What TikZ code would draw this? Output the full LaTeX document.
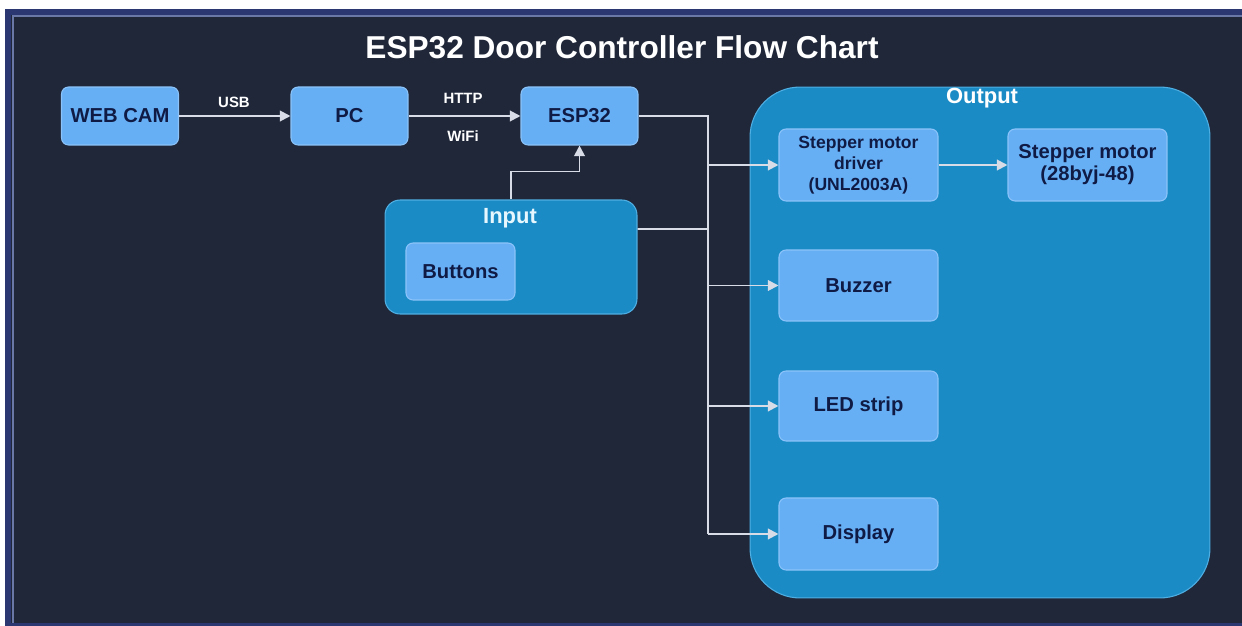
\documentclass[tikz,border=0pt]{standalone}
\usepackage{fontspec}
\setmainfont{Liberation Sans}
\usepackage{tikz}
\usetikzlibrary{positioning,arrows.meta}

\definecolor{pagedark}{HTML}{1F2739}
\definecolor{framenavy}{HTML}{2B3770}
\definecolor{frameline}{HTML}{6A78A8}
\definecolor{boxfill}{HTML}{66AFF5}
\definecolor{boxline}{HTML}{8CC4FA}
\definecolor{boxtext}{HTML}{101B45}
\definecolor{grpfill}{HTML}{1B8BC6}
\definecolor{grpline}{HTML}{4FAFE3}
\definecolor{wirecol}{HTML}{D8DCE6}

\begin{document}
\begin{tikzpicture}[x=0.02cm, y=-0.02cm,
  box/.style={draw=boxline, fill=boxfill, line width=0.6pt, rounded corners=4pt,
    text=boxtext, align=center, inner sep=1pt,
    font=\bfseries\fontsize{11.5}{13}\selectfont},
  grp/.style={draw=grpline, fill=grpfill, line width=0.6pt, inner sep=0pt},
  grptitle/.style={text=white, font=\bfseries\fontsize{12.5}{14}\selectfont},
  lbl/.style={text=white, font=\bfseries\fontsize{8.5}{10}\selectfont},
  line/.style={draw=wirecol, line width=1.1pt},
  wire/.style={line, -{Triangle[length=6pt,width=6pt]}}]
\useasboundingbox (0,0) rectangle (1242,626);
% page and frame
\fill[white] (0,0) rectangle (1242,626);
\fill[framenavy] (5,9) rectangle (1242,626);
\fill[pagedark] (11,15) rectangle (1242,623);
\draw[frameline, line width=0.8pt] (13,623) -- (13,16) -- (1242,16);

\node[text=white, font=\bfseries\fontsize{18}{20}\selectfont] (title) at (622,47) {ESP32 Door Controller Flow Chart};

% groups
\node[grp, rounded corners=1cm, minimum width=9.2cm, minimum height=10.22cm] (output) at (980,342.5) {};
\node[grptitle] at (982,98) {Output};
\node[grp, rounded corners=0.3cm, minimum width=5.04cm, minimum height=2.28cm] (input) at (511,257) {};
\node[grptitle, text=white!90!cyan] at (510,218) {Input};

% top row
\node[box, minimum width=2.34cm, minimum height=1.16cm] (webcam) at (120,116) {WEB CAM};
\node[box, minimum width=2.34cm, minimum height=1.16cm] (pc) at (349.5,116) {PC};
\node[box, minimum width=2.34cm, minimum height=1.16cm] (esp) at (579.5,116) {ESP32};
\node[box, minimum width=2.18cm, minimum height=1.14cm] (buttons) at (460.5,271.5) {Buttons};

% outputs
\node[box, minimum width=3.18cm, minimum height=1.44cm, font=\bfseries\fontsize{10}{12}\selectfont] (driver) at (858.5,165) {Stepper motor\\driver\\(UNL2003A)};
\node[box, minimum width=3.18cm, minimum height=1.44cm, font=\bfseries\fontsize{11.5}{12.5}\selectfont] (motor) at (1087.5,165) {Stepper motor\\(28byj-48)};
\node[box, minimum width=3.18cm, minimum height=1.42cm] (buzzer) at (858.5,285.5) {Buzzer};
\node[box, minimum width=3.18cm, minimum height=1.4cm] (led) at (858.5,406) {LED strip};
\node[box, minimum width=3.18cm, minimum height=1.44cm] (display) at (858.5,534) {Display};

% connections
\draw[wire] (webcam.east) -- (pc.west);
\node[lbl] at (234,102) {USB};
\draw[wire] (pc.east) -- (esp.west);
\node[lbl] at (463,98) {HTTP};
\node[lbl] at (463,136) {WiFi};
\draw[wire] (input.north) -- ++(0,-28) -| (esp.south);

\coordinate (bus) at (708,0);
\draw[line] (esp.east) -| (bus |- display.west);
\draw[line] ([yshift=0.56cm]input.east) -- (bus |- 0,229);
\draw[wire] (bus |- driver.west) -- (driver.west);
\draw[wire] (bus |- buzzer.west) -- (buzzer.west);
\draw[wire] (bus |- led.west) -- (led.west);
\draw[wire] (bus |- display.west) -- (display.west);
\draw[wire] (driver.east) -- (motor.west);
\end{tikzpicture}
\end{document}
